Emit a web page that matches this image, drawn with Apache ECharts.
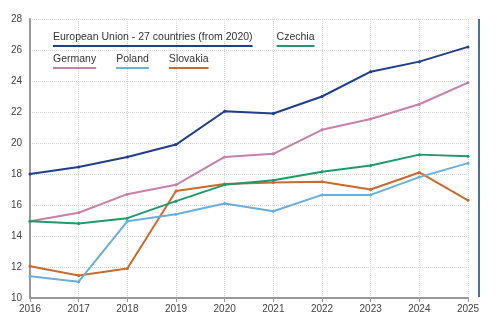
<!DOCTYPE html>
<html>
<head>
<meta charset="utf-8">
<script src="https://cdn.jsdelivr.net/npm/echarts@6/dist/echarts.min.js"></script>
<style>
  html, body { margin: 0; padding: 0; background: #fff; }
  #chart { width: 502px; height: 323px; }
</style>
</head>
<body>
<div id="chart"></div>
<script>
// 年份
const years = ['2016', '2017', '2018', '2019', '2020', '2021', '2022', '2023', '2024', '2025'];

// 各序列数值
const euValues = [18.0, 18.45, 19.1, 19.9, 22.05, 21.9, 23.0, 24.6, 25.25, 26.2];
const czechiaValues = [14.95, 14.8, 15.15, 16.25, 17.3, 17.6, 18.15, 18.55, 19.25, 19.15];
const germanyValues = [14.95, 15.5, 16.7, 17.3, 19.1, 19.3, 20.85, 21.55, 22.5, 23.9];
const polandValues = [11.4, 11.05, 14.95, 15.4, 16.1, 15.6, 16.65, 16.65, 17.8, 18.7];
const slovakiaValues = [12.05, 11.45, 11.9, 16.9, 17.35, 17.45, 17.5, 17.0, 18.1, 16.3];

// y轴刻度
const yTicks = [10, 12, 14, 16, 18, 20, 22, 24, 26, 28];

const names = ['European Union - 27 countries (from 2020)', 'Czechia', 'Germany', 'Poland', 'Slovakia'];
const colors = ['#1f3f8c', '#1f9a6c', '#c77fab', '#66b0dc', '#c96a2e'];
const values = [euValues, czechiaValues, germanyValues, polandValues, slovakiaValues];

// 图例：文字下方带颜色下划线
const rich = { n: { fontSize: 10.5, color: '#333', fontFamily: 'Liberation Sans', lineHeight: 13 } };
colors.forEach((c, i) => {
  rich['u' + i] = { width: '100%', height: 2, lineHeight: 4, fontSize: 1, backgroundColor: c };
});
function legendFormatter(name) {
  const i = names.indexOf(name);
  return '{n|' + name + '}\n{u' + i + '| }';
}
function makeLegend(data, top, gap) {
  return {
    data: data,
    left: 53,
    top: top,
    icon: 'none',
    itemWidth: 0,
    itemGap: gap,
    padding: 0,
    selectedMode: false,
    formatter: legendFormatter,
    textStyle: { rich: rich, padding: [0, 0, 0, -5] }
  };
}

const chart = echarts.init(document.getElementById('chart'), null, { renderer: 'canvas' });

const option = {
  animation: false,
  color: colors,
  legend: [
    makeLegend([names[0], names[1]], 32, 24),
    makeLegend([names[2], names[3], names[4]], 54, 20)
  ],
  grid: { left: 30, right: 34, top: 19, bottom: 25, containLabel: false },
  xAxis: {
    type: 'category',
    data: years,
    boundaryGap: false,
    axisLine: { lineStyle: { color: '#999', width: 2 } },
    axisTick: { show: true, length: 4, lineStyle: { color: '#999' } },
    axisLabel: { color: '#444', fontSize: 10, fontFamily: 'Liberation Sans', margin: 6 },
    splitLine: { show: true, lineStyle: { color: '#d6d6d6', type: 'dotted' } }
  },
  yAxis: {
    type: 'value',
    min: yTicks[0],
    max: yTicks[yTicks.length - 1],
    interval: 2,
    axisLine: { show: true, lineStyle: { color: '#999', width: 2 } },
    axisTick: { show: false },
    axisLabel: { color: '#444', fontSize: 10, fontFamily: 'Liberation Sans', margin: 8 },
    splitLine: { show: true, lineStyle: { color: '#d6d6d6', type: 'dotted' } }
  },
  graphic: [
    {
      type: 'line',
      shape: { x1: 479, y1: 19, x2: 479, y2: 297 },
      style: { stroke: '#4a6fa5', lineWidth: 2 }
    }
  ],
  series: values.map((v, i) => ({
    type: 'line',
    name: names[i],
    data: v,
    symbol: 'circle',
    symbolSize: 3,
    lineStyle: { width: 2, color: colors[i] },
    itemStyle: { color: colors[i] },
    z: 10 - i
  }))
};

chart.setOption(option);
</script>
</body>
</html>
